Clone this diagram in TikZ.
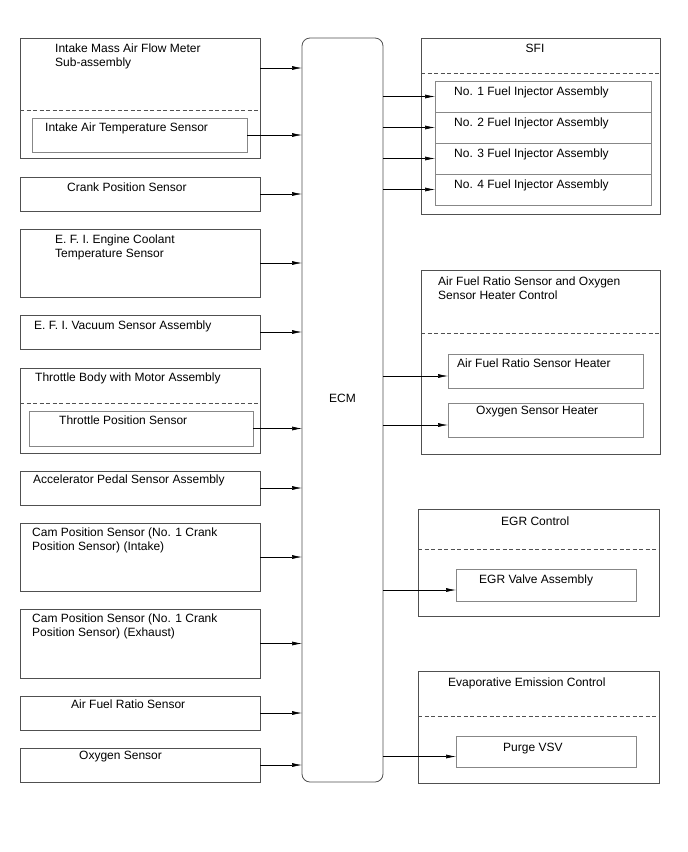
\documentclass[tikz,border=0pt]{standalone}
\usepackage{fontspec}
\setmainfont{Liberation Sans}
\usetikzlibrary{arrows.meta, positioning, calc}
\definecolor{framegray}{RGB}{80,80,80}
\definecolor{subgray}{RGB}{135,135,135}

\begin{document}
\begin{tikzpicture}[x=1pt, y=-1pt,
    blk/.style={draw=framegray, line width=0.8pt, anchor=north west, inner sep=0pt, outer sep=0pt},
    subblk/.style={draw=subgray, line width=0.8pt, anchor=north west, inner sep=0pt, outer sep=0pt},
    txt/.style={anchor=base west, inner sep=0pt, align=left, font=\fontsize{12}{13.3}\selectfont},
    divider/.style={draw=framegray, dash pattern=on 4pt off 2.5pt, line width=0.7pt},
    arr/.style={-{Latex[length=10pt,width=4pt]}, line width=0.6pt},
  ]
  \useasboundingbox (0,0) rectangle (688,852);

  % sensors (left)
  \node[blk, minimum width=240pt, minimum height=120pt] (imaf) at (20,38) {};
  \node[subblk, minimum width=215pt, minimum height=34pt] (iat) at (32,118) {};
  \node[blk, minimum width=240pt, minimum height=34pt] (crank) at (20,177) {};
  \node[blk, minimum width=240pt, minimum height=68pt] (ect) at (20,229) {};
  \node[blk, minimum width=240pt, minimum height=34pt] (vac) at (20,315) {};
  \node[blk, minimum width=240pt, minimum height=85pt] (tb) at (20,368) {};
  \node[subblk, minimum width=224pt, minimum height=35pt] (tps) at (29,411) {};
  \node[blk, minimum width=240pt, minimum height=34pt] (acc) at (20,471) {};
  \node[blk, minimum width=240pt, minimum height=68pt] (camin) at (20,523) {};
  \node[blk, minimum width=240pt, minimum height=69pt] (camex) at (20,609) {};
  \node[blk, minimum width=240pt, minimum height=34pt] (afs) at (20,696) {};
  \node[blk, minimum width=240pt, minimum height=34pt] (oxs) at (20,748) {};

  % two-line labels sit on the baseline of their last line
  \node[txt] (imaflbl) at (55,66) {Intake Mass Air Flow Meter\\Sub-assembly};
  \node[txt] (iatlbl) at (45,131) {Intake Air Temperature Sensor};
  \node[txt] (cranklbl) at (67,191) {Crank Position Sensor};
  \node[txt] (ectlbl) at (55,257) {E. F. I. Engine Coolant\\Temperature Sensor};
  \node[txt] (vaclbl) at (34,329) {E. F. I. Vacuum Sensor Assembly};
  \node[txt] (tblbl) at (35,381) {Throttle Body with Motor Assembly};
  \node[txt] (tpslbl) at (59,424) {Throttle Position Sensor};
  \node[txt] (acclbl) at (33,483) {Accelerator Pedal Sensor Assembly};
  \node[txt] (caminlbl) at (32,550) {Cam Position Sensor (No. 1 Crank\\Position Sensor) (Intake)};
  \node[txt] (camexlbl) at (32,636) {Cam Position Sensor (No. 1 Crank\\Position Sensor) (Exhaust)};
  \node[txt] (afslbl) at (71,708) {Air Fuel Ratio Sensor};
  \node[txt] (oxslbl) at (79,759) {Oxygen Sensor};

  \draw[divider] ([yshift=-72pt]imaf.north west) -- ([yshift=-72pt]imaf.north east);
  \draw[divider] ([yshift=-35pt]tb.north west) -- ([yshift=-35pt]tb.north east);

  % engine control module
  \node[blk, rounded corners=8pt, minimum width=81pt, minimum height=744pt] (ecm) at (302,38) {};
  \node[txt, anchor=center] (ecmlbl) at ([yshift=12pt]ecm.center) {ECM};

  % actuators (right)
  \node[blk, minimum width=239pt, minimum height=176pt] (sfi) at (421,38) {};
  \foreach \i/\y in {1/81, 2/112, 3/143, 4/174} {
    \node[subblk, minimum width=216pt, minimum height=31pt] (inj\i) at (435,\y) {};
    \node[txt] (inj\i lbl) at ($(inj\i.north west)+(19,14)$) {No. \i\ Fuel Injector Assembly};
  }
  \node[blk, minimum width=239pt, minimum height=184pt] (afc) at (421,270) {};
  \node[subblk, minimum width=195pt, minimum height=34pt] (afh) at (448,354) {};
  \node[subblk, minimum width=195pt, minimum height=34pt] (oxh) at (448,403) {};
  \node[blk, minimum width=241pt, minimum height=107pt] (egr) at (418,509) {};
  \node[subblk, minimum width=180pt, minimum height=32pt] (egrv) at (456,569) {};
  \node[blk, minimum width=241pt, minimum height=112pt] (evap) at (418,671) {};
  \node[subblk, minimum width=180pt, minimum height=31pt] (vsv) at (456,736) {};

  \node[txt, anchor=base] (sfilbl) at (535,52) {SFI};
  \node[txt] (afclbl) at (438,299) {Air Fuel Ratio Sensor and Oxygen\\Sensor Heater Control};
  \node[txt] (afhlbl) at (457,367) {Air Fuel Ratio Sensor Heater};
  \node[txt] (oxhlbl) at (476,414) {Oxygen Sensor Heater};
  \node[txt] (egrlbl) at (501,525) {EGR Control};
  \node[txt] (egrvlbl) at (479,583) {EGR Valve Assembly};
  \node[txt] (evaplbl) at (448,686) {Evaporative Emission Control};
  \node[txt] (vsvlbl) at (503,751) {Purge VSV};

  \draw[divider] ([yshift=-35pt]sfi.north west) -- ([yshift=-35pt]sfi.north east);
  \draw[divider] ([yshift=-63pt]afc.north west) -- ([yshift=-63pt]afc.north east);
  \draw[divider] ([yshift=-40pt]egr.north west) -- ([yshift=-40pt]egr.north east);
  \draw[divider] ([yshift=-45pt]evap.north west) -- ([yshift=-45pt]evap.north east);

  % signals in
  \coordinate (imafout) at ([yshift=-30pt]imaf.north east);
  \draw[arr] (imafout) -- (imafout -| ecm.west);
  \foreach \b in {iat, crank, ect, vac, tps, acc, camin, camex, afs, oxs}
    \draw[arr] (\b.east) -- (\b.east -| ecm.west);

  % signals out
  \foreach \b in {inj1, inj2, inj3, inj4}
    \draw[arr] (\b.west -| ecm.east) -- (\b.west);
  \foreach \b in {afh, oxh, egrv, vsv} {
    \coordinate (\b in) at ([yshift=-5pt]\b.west);
    \draw[arr] (\b in -| ecm.east) -- (\b in);
  }
\end{tikzpicture}
\end{document}
